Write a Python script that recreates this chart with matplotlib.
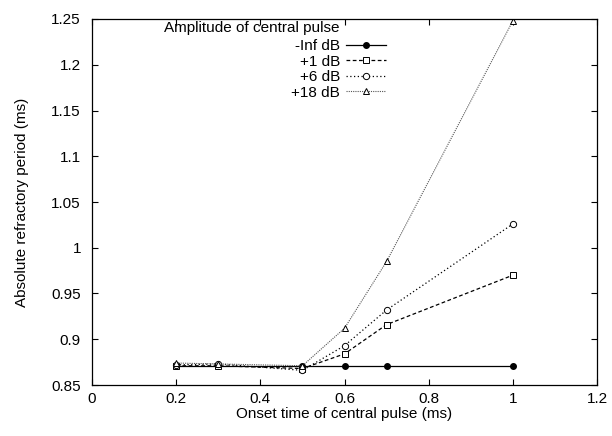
import matplotlib
matplotlib.use("Agg")
from matplotlib import pyplot as plt

plt.rcParams["font.family"] = ["Liberation Sans", "DejaVu Sans"]
plt.rcParams["font.size"] = 11

# onset times (ms)
onset = [0.2, 0.3, 0.5, 0.6, 0.7, 1.0]

# absolute refractory period (ms) per amplitude of the central pulse
neg_inf_db = [0.871, 0.871, 0.871, 0.871, 0.871, 0.871]
plus1_db = [0.871, 0.871, 0.868, 0.884, 0.916, 0.970]
plus6_db = [0.872, 0.873, 0.866, 0.893, 0.932, 1.026]
plus18_db = [0.874, 0.873, 0.871, 0.912, 0.985, 1.248]

labels = ["-Inf dB", "+1 dB", "+6 dB", "+18 dB"]
legend_title = "Amplitude of central pulse"

W, H = 612, 436
fig = plt.figure(figsize=(W / 100, H / 100), dpi=100)
ax = fig.add_axes([92 / W, 1 - 385 / H, 505 / W, 366 / H])

ax.plot(onset, neg_inf_db, color="black", lw=0.9, ls="-", marker="o",
        ms=4, mfc="black", label=labels[0])
ax.plot(onset, plus1_db, color="black", lw=0.9, ls=(0, (3, 2)), marker="s",
        ms=4.5, mfc="white", mew=0.7, label=labels[1])
ax.plot(onset, plus6_db, color="black", lw=0.9, ls=(0, (1, 2)), marker="o",
        ms=4.5, mfc="white", mew=0.7, label=labels[2])
ax.plot(onset, plus18_db, color="#555555", lw=0.8, ls=(0, (1, 1)), marker="^",
        ms=4.5, mfc="white", mec="black", mew=0.7, label=labels[3])

ax.set_xlim(0, 1.2)
ax.set_ylim(0.85, 1.25)
ax.set_xticks([0, 0.2, 0.4, 0.6, 0.8, 1.0, 1.2])
ax.set_xticklabels(["0", "0.2", "0.4", "0.6", "0.8", "1", "1.2"])
ax.set_yticks([0.85, 0.9, 0.95, 1.0, 1.05, 1.1, 1.15, 1.2, 1.25])
ax.set_yticklabels(["0.85", "0.9", "0.95", "1", "1.05", "1.1", "1.15", "1.2", "1.25"])
ax.tick_params(direction="in", top=True, right=True, length=4, width=0.8)
ax.tick_params(axis="x", pad=5)
ax.tick_params(axis="y", pad=8)
for s in ax.spines.values():
    s.set_linewidth(0.9)

ax.set_xlabel("Onset time of central pulse (ms)", labelpad=1)
ax.set_ylabel("Absolute refractory period (ms)", labelpad=16)

# gnuplot-style key: right-aligned text, samples to the right
fig.text(340 / W, 1 - 28 / H, legend_title, ha="right", va="center")
leg = ax.legend(loc="upper right", bbox_to_anchor=(386 / W, 1 - 39 / H),
                bbox_transform=fig.transFigure, frameon=False, markerfirst=False,
                handlelength=2.6, handletextpad=0.4, labelspacing=0.1,
                borderaxespad=0, borderpad=0)
for t in leg.get_texts():
    t.set_ha("right")

fig.savefig("out.png", dpi=100)
